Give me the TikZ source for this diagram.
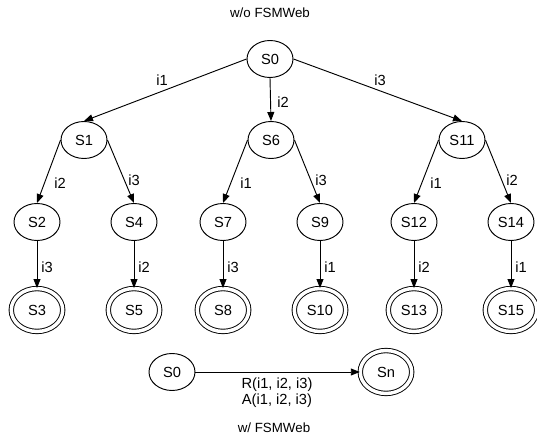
\documentclass[tikz,border=0pt]{standalone}
\usepackage{fontspec}
\setmainfont{Liberation Sans}
\usetikzlibrary{shapes.geometric,arrows.meta}
\begin{document}
\begin{tikzpicture}[x=0.75pt,y=-0.75pt,
  font=\fontsize{11}{11.8}\selectfont,
  state/.style={ellipse,draw,line width=0.7pt,inner sep=0pt,minimum width=34.5pt,minimum height=27.75pt},
  final/.style={ellipse,draw,line width=0.7pt,double,double distance=2.6pt,inner sep=0pt,minimum width=38.6pt,minimum height=32.2pt},
  edge/.style={draw,line width=0.7pt,-{Triangle[length=6.75pt,width=5.2pt]}},
  lbl/.style={inner sep=0pt},
  ttl/.style={inner sep=0pt,font=\fontsize{10}{12}\selectfont}]
\useasboundingbox (0,0) rectangle (537,438);
\node[ttl] (t1) at (270,13) {w/o FSMWeb};
\node[state] (S0) at (270,59) {S0};
\node[state] (S1) at (84,140) {S1};
\node[state] (S6) at (271,140) {S6};
\node[state] (S11) at (462,140) {S11};
\node[state] (S2) at (37,222) {S2};
\node[state] (S4) at (134,222) {S4};
\node[state] (S7) at (223,222) {S7};
\node[state] (S9) at (320,222) {S9};
\node[state] (S12) at (414,222) {S12};
\node[state] (S14) at (511,222) {S14};
\node[final] (S3) at (37,310) {S3};
\node[final] (S5) at (134,310) {S5};
\node[final] (S8) at (223,310) {S8};
\node[final] (S10) at (320,310) {S10};
\node[final] (S13) at (414,310) {S13};
\node[final] (S15) at (511,310) {S15};
\draw[edge] (S0.west) -- (S1.north);
\draw[edge] (S0.south) -- (S6.north);
\draw[edge] (S0.east) -- (S11.north);
\draw[edge] (S1.west) -- (S2.north);
\draw[edge] (S1.east) -- (S4.north);
\draw[edge] (S6.west) -- (S7.north);
\draw[edge] (S6.east) -- (S9.north);
\draw[edge] (S11.west) -- (S12.north);
\draw[edge] (S11.east) -- (S14.north);
\draw[edge] (S2) -- (S3);
\draw[edge] (S4) -- (S5);
\draw[edge] (S7) -- (S8);
\draw[edge] (S9) -- (S10);
\draw[edge] (S12) -- (S13);
\draw[edge] (S14) -- (S15);
\node[lbl] (l01) at (162,80) {i1};
\node[lbl] (l06) at (283,102) {i2};
\node[lbl] (l011) at (380,80) {i3};
\node[lbl] (l12) at (60,183) {i2};
\node[lbl] (l14) at (134,180) {i3};
\node[lbl] (l67) at (246,183) {i1};
\node[lbl] (l69) at (321,180) {i3};
\node[lbl] (l1112) at (436,183) {i1};
\node[lbl] (l1114) at (512,180) {i2};
\node[lbl] (l23) at (47,267) {i3};
\node[lbl] (l45) at (144,267) {i2};
\node[lbl] (l78) at (233,267) {i3};
\node[lbl] (l910) at (330,267) {i1};
\node[lbl] (l1213) at (424,267) {i2};
\node[lbl] (l1415) at (521,267) {i1};
\node[state] (B0) at (172,372) {S0};
\node[final] (Bn) at (386,372) {Sn};
\draw[edge] (B0) -- (Bn);
\node[lbl,align=center] (lr) at (277,393) {R(i1, i2, i3)\\A(i1, i2, i3)};
\node[ttl] (t2) at (274,428) {w/ FSMWeb};
\end{tikzpicture}
\end{document}
